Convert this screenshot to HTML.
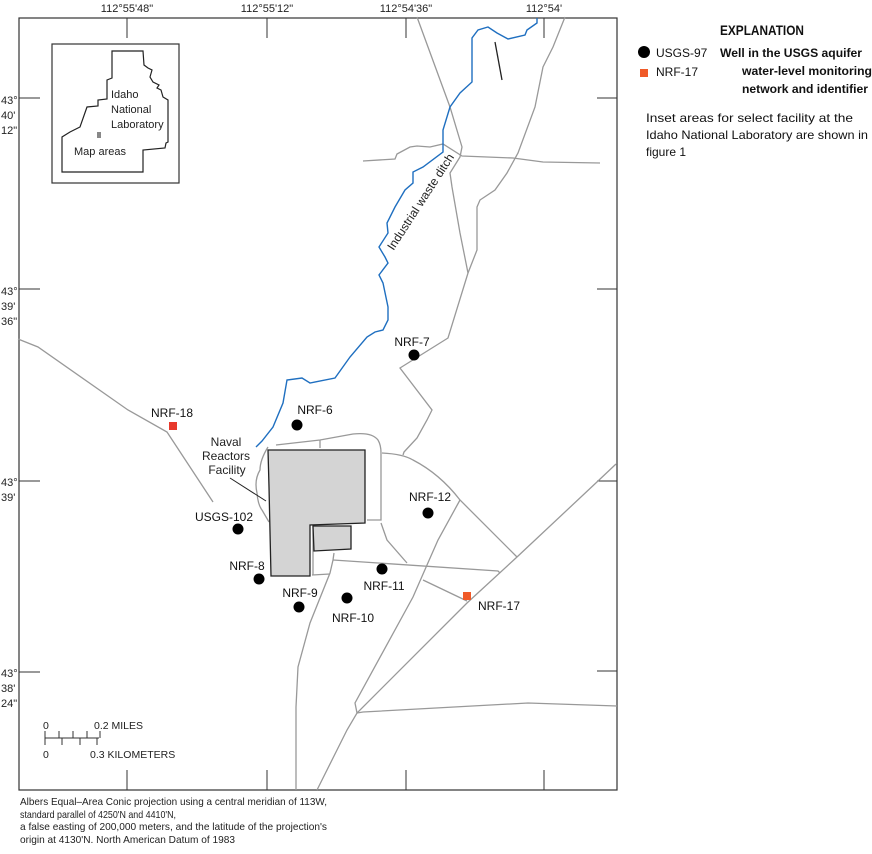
<!DOCTYPE html>
<html><head><meta charset="utf-8"><style>
html,body{margin:0;padding:0;background:#fff;}
svg{display:block;font-family:"Liberation Sans",sans-serif;}
</style></head><body>
<svg width="872" height="854" viewBox="0 0 872 854" xmlns="http://www.w3.org/2000/svg">
<!-- frame -->
<rect x="19" y="18" width="598" height="772" fill="none" stroke="#333" stroke-width="1.2"/>
<g stroke="#333" stroke-width="1">
<line x1="127" y1="18" x2="127" y2="38"/><line x1="267" y1="18" x2="267" y2="38"/><line x1="406" y1="18" x2="406" y2="38"/><line x1="544" y1="18" x2="544" y2="38"/>
<line x1="127" y1="790" x2="127" y2="770"/><line x1="267" y1="790" x2="267" y2="770"/><line x1="406" y1="790" x2="406" y2="770"/><line x1="544" y1="790" x2="544" y2="770"/>
<line x1="19" y1="98" x2="40" y2="98"/><line x1="19" y1="289" x2="40" y2="289"/><line x1="19" y1="481" x2="40" y2="481"/><line x1="19" y1="672" x2="40" y2="672"/>
<line x1="617" y1="98" x2="597" y2="98"/><line x1="617" y1="289" x2="597" y2="289"/><line x1="617" y1="481" x2="597" y2="481"/><line x1="617" y1="671" x2="597" y2="671"/>
</g>
<g font-size="11" fill="#222" text-anchor="middle">
<text x="127" y="12">112°55'48"</text><text x="267" y="12">112°55'12"</text><text x="406" y="12">112°54'36"</text><text x="544" y="12">112°54'</text>
</g>
<g font-size="11" fill="#222">
<text x="1" y="104">43°</text><text x="1" y="119">40'</text><text x="1" y="134">12"</text>
<text x="1" y="295">43°</text><text x="1" y="310">39'</text><text x="1" y="325">36"</text>
<text x="1" y="486">43°</text><text x="1" y="501">39'</text>
<text x="1" y="677">43°</text><text x="1" y="692">38'</text><text x="1" y="707">24"</text>
</g>
<!-- inset -->
<rect x="52" y="44" width="127" height="139" fill="#fff" stroke="#333" stroke-width="1.2"/>
<polygon points="112,51 143,51 144,65 148,68 152,70 150,77 153,82 159,85 157,88 161,90 163,97 168,100 168,142 166,143 165,148 143,150 143,172 117,172 62,172 62,137 70,132 80,127 87,107 98,106 98,100 107,99 107,80 112,78" fill="none" stroke="#222" stroke-width="1.2"/>
<rect x="97" y="132" width="4" height="6" fill="#888"/>
<g font-size="11" fill="#222"><text x="111" y="98">Idaho</text><text x="111" y="113">National</text><text x="111" y="128">Laboratory</text><text x="74" y="155">Map areas</text></g>
<!-- roads -->
<g fill="none" stroke="#999" stroke-width="1.3">
<polyline points="417,17 450,107 462,147 460,157 450,173 452,187 460,233 468,273"/>
<polyline points="565,17 553,47 543,67 535,107 518,153 507,173 495,190 480,200 477,207 477,250 468,273 448,338 400,368 432,410 427,420 417,438 404,452 403,455"/>
<polyline points="363,161 395,159 397,154 410,147 417,146 430,147 443,144 462,156 513,158 543,162 600,163"/>
<polyline points="18,339 38,347 128,410 167,432 213,502"/>
<path d="M276,445 L320,440 L353,434 Q372,432 378,440 Q381,445 381,453 L381,520 L367,520"/>
<path d="M268,447 Q260,460 260,470 Q254,480 257,493 Q258,505 262,510 L269,522"/>
<line x1="320" y1="440" x2="320" y2="448"/>
<path d="M382,453 Q403,454 413,460 Q440,474 460,500 L517,557"/>
<polyline points="616,464 598,481 517,557 467,603 357,713 347,730 317,790"/>
<polyline points="460,500 438,540 427,565 413,597 355,703 357,713"/>
<polyline points="357,713 363,712 528,703 617,706"/>
<polyline points="423,580 467,601"/>
<polyline points="333,560 498,571 500,573"/>
<polyline points="334,553 333,560 330,573 310,623 298,667 296,707 296,790"/>
<polyline points="312,575 330,574"/>
<polyline points="381,523 387,540 407,563"/>
<line x1="313" y1="526" x2="313" y2="575"/>
</g>
<!-- ditch -->
<polyline fill="none" stroke="#1f6fc0" stroke-width="1.4" points="537,18 537,23 527,30 525,35 508,39 497,33 488,27 478,30 472,38 472,82 460,93 450,107 443,130 443,152 423,167 413,172 413,183 405,190 395,207 387,223 388,233 379,247 385,257 388,263 379,275 383,283 388,307 388,320 383,330 375,332 367,337 350,357 335,378 310,383 302,378 287,380 283,403 273,427 262,441 256,447"/>
<line x1="495" y1="42" x2="502" y2="80" stroke="#222" stroke-width="1.3"/>
<text x="0" y="0" font-size="12" fill="#222" text-anchor="middle" transform="translate(424,204) rotate(-57)">Industrial waste ditch</text>
<!-- facility -->
<polygon points="268,450 365,450 365,523 310,525 310,576 271,576 269,487" fill="#d4d4d4" stroke="#222" stroke-width="1.3"/>
<polygon points="313,526 351,526 351,549 314,551" fill="#d4d4d4" stroke="#222" stroke-width="1.3"/>
<line x1="230" y1="478" x2="266" y2="501" stroke="#222" stroke-width="1"/>
<g font-size="12" fill="#222" text-anchor="middle"><text x="226" y="446">Naval</text><text x="226" y="460">Reactors</text><text x="227" y="474">Facility</text></g>
<!-- wells -->
<g fill="#000">
<circle cx="414" cy="355" r="5.5"/><circle cx="297" cy="425" r="5.5"/><circle cx="428" cy="513" r="5.5"/><circle cx="238" cy="529" r="5.5"/><circle cx="259" cy="579" r="5.5"/><circle cx="299" cy="607" r="5.5"/><circle cx="347" cy="598" r="5.5"/><circle cx="382" cy="569" r="5.5"/>
</g>
<rect x="169" y="422" width="8" height="8" fill="#e8392c"/>
<rect x="463" y="592" width="8" height="8" fill="#f05a28"/>
<g font-size="12" fill="#111" text-anchor="middle">
<text x="412" y="346">NRF-7</text><text x="315" y="414">NRF-6</text><text x="430" y="501">NRF-12</text><text x="224" y="521">USGS-102</text><text x="247" y="570">NRF-8</text><text x="300" y="597">NRF-9</text><text x="353" y="622">NRF-10</text><text x="384" y="590">NRF-11</text><text x="499" y="610">NRF-17</text><text x="172" y="417">NRF-18</text>
</g>
<!-- scale bar -->
<g stroke="#333" stroke-width="1" fill="none">
<line x1="45" y1="738" x2="99" y2="738"/>
<line x1="45" y1="731" x2="45" y2="745"/><line x1="59" y1="731" x2="59" y2="738"/><line x1="73" y1="731" x2="73" y2="738"/><line x1="87" y1="731" x2="87" y2="738"/><line x1="100" y1="731" x2="100" y2="738"/>
<line x1="62" y1="738" x2="62" y2="745"/><line x1="80" y1="738" x2="80" y2="745"/><line x1="97" y1="738" x2="97" y2="745"/>
</g>
<g font-size="10.5" fill="#222"><text x="43" y="729">0</text><text x="94" y="729">0.2 MILES</text><text x="43" y="758">0</text><text x="90" y="758">0.3 KILOMETERS</text></g>
<!-- footer -->
<g font-size="10.5" fill="#222">
<text x="20" y="805" textLength="307" lengthAdjust="spacingAndGlyphs">Albers Equal–Area Conic projection using a central meridian of 113W,</text>
<text x="20" y="818" textLength="156" lengthAdjust="spacingAndGlyphs">standard parallel of 4250'N and 4410'N,</text>
<text x="20" y="830" textLength="307" lengthAdjust="spacingAndGlyphs">a false easting of 200,000 meters, and the latitude of the projection's</text>
<text x="20" y="843" textLength="215" lengthAdjust="spacingAndGlyphs">origin at 4130'N. North American Datum of 1983</text>
</g>
<!-- legend -->
<text x="720" y="35" font-size="14" font-weight="bold" fill="#111" textLength="84" lengthAdjust="spacingAndGlyphs">EXPLANATION</text>
<circle cx="644" cy="52" r="6" fill="#000"/>
<rect x="640" y="69" width="8" height="8" fill="#f05a28"/>
<g font-size="12" fill="#111"><text x="656" y="57">USGS-97</text><text x="656" y="76">NRF-17</text></g>
<g font-size="12" font-weight="bold" fill="#111">
<text x="720" y="57" textLength="142" lengthAdjust="spacingAndGlyphs">Well in the USGS aquifer</text>
<text x="742" y="75" textLength="130" lengthAdjust="spacingAndGlyphs">water-level monitoring</text>
<text x="742" y="93" textLength="126" lengthAdjust="spacingAndGlyphs">network and identifier</text>
</g>
<g font-size="12" fill="#111">
<text x="646" y="122" textLength="207" lengthAdjust="spacingAndGlyphs">Inset areas for select facility at the</text>
<text x="646" y="139" textLength="222" lengthAdjust="spacingAndGlyphs">Idaho National Laboratory are shown in</text>
<text x="646" y="156">figure 1</text>
</g>
</svg>
</body></html>
